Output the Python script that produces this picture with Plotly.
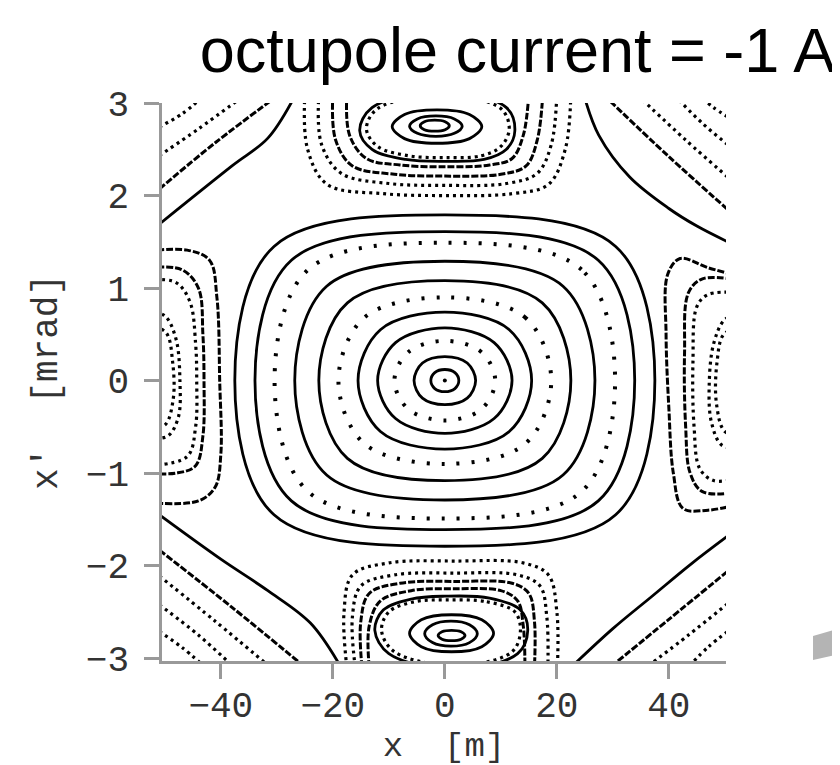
import plotly.graph_objects as go

# ---------------- axis ticks ----------------
x_ticks = [-40, -20, 0, 20, 40]
xp_ticks = [-3, -2, -1, 0, 1, 2, 3]

# ---------------- central (stable) region: nested rings ----------------
ring_half_x = [2.5, 5.5, 9.0, 12.0, 15.5, 19.0, 22.5, 26.8, 30.4, 33.9, 37.5]
ring_half_xp = [0.12, 0.26, 0.43, 0.57, 0.74, 0.90, 1.08, 1.29, 1.49, 1.61, 1.79]
ring_diag_x = [1.8, 4.0, 6.5, 8.8, 11.5, 14.4, 17.4, 21.1, 24.4, 27.4, 30.5]
ring_diag_xp = [0.086, 0.19, 0.31, 0.41, 0.55, 0.68, 0.84, 1.02, 1.20, 1.30, 1.45]
ring_style = ["solid", "solid", "dot", "solid", "solid", "dot",
              "solid", "solid", "dot", "solid", "solid"]

# ---------------- top island ----------------
top_ring_cx = [-1.8, -1.6, -1.4]
top_ring_cxp = [2.755, 2.75, 2.745]
top_ring_hx = [2.6, 4.7, 8.0]
top_ring_hxp = [0.06, 0.11, 0.18]
top_ring_dx = [1.85, 3.3, 5.8]
top_ring_dxp = [0.043, 0.078, 0.13]

topD1_x = [0, 7, 11, 12.5, 11, 0, -13, -15.2, -13, -7, 0]
topD1_xp = [2.37, 2.39, 2.5, 2.7, 2.95, 3.12, 2.95, 2.7, 2.5, 2.39, 2.37]
topD2_x = [0, 6.5, 10, 11.5, 10, 0, -12, -14, -12, -6.5, 0]
topD2_xp = [2.41, 2.43, 2.53, 2.72, 2.94, 3.08, 2.94, 2.72, 2.53, 2.43, 2.41]

topU1_x = [-17.5, -17, -14, -8, 0, 8, 12, 14, 15]
topU1_xp = [3.1, 2.65, 2.4, 2.33, 2.31, 2.33, 2.4, 2.65, 3.1]
topU2_x = [-20, -19.5, -16.5, -9, 0, 10, 14.5, 16.5, 17.5]
topU2_xp = [3.1, 2.6, 2.32, 2.23, 2.21, 2.23, 2.32, 2.6, 3.1]
topU3_x = [-22.5, -22, -18.5, -10, 0, 11, 16.5, 19, 20]
topU3_xp = [3.1, 2.55, 2.24, 2.13, 2.11, 2.13, 2.24, 2.55, 3.1]
topU4_x = [-25, -24.5, -21, -11, 0, 12, 18.5, 21.5, 22.5]
topU4_xp = [3.1, 2.5, 2.12, 2.02, 2.0, 2.02, 2.12, 2.5, 3.1]

# ---------------- bottom island ----------------
bot_ring_cx = [1.2, 1.1, 1.2]
bot_ring_cxp = [-2.755, -2.735, -2.73]
bot_ring_hx = [2.4, 4.7, 7.5]
bot_ring_hxp = [0.055, 0.135, 0.2]
bot_ring_dx = [1.7, 3.3, 5.4]
bot_ring_dxp = [0.04, 0.096, 0.145]

botD1_x = [0, 8, 13.5, 14.8, 13, 2, -10, -12.5, -11, -6, 0]
botD1_xp = [-2.33, -2.35, -2.48, -2.7, -2.95, -3.12, -2.95, -2.7, -2.48, -2.36, -2.33]
botD2_x = [0.5, 7.5, 12.5, 13.5, 12, 2, -9, -11.3, -10, -5.5, 0.5]
botD2_xp = [-2.37, -2.39, -2.5, -2.7, -2.93, -3.08, -2.93, -2.7, -2.5, -2.39, -2.37]

botU1_x = [-13.5, -13.5, -11.5, -6, 2, 10, 13, 14, 14.3]
botU1_xp = [-3.1, -2.65, -2.38, -2.27, -2.25, -2.27, -2.38, -2.65, -3.1]
botU2_x = [-14.8, -15, -13.5, -8, 2, 12, 15, 16, 16]
botU2_xp = [-3.1, -2.6, -2.3, -2.19, -2.17, -2.19, -2.3, -2.6, -3.1]
botU3_x = [-16, -16.5, -15, -9, 2, 13, 17, 18.2, 18.4]
botU3_xp = [-3.1, -2.55, -2.22, -2.1, -2.08, -2.1, -2.22, -2.55, -3.1]
botU4_x = [-17.5, -18, -16.5, -10, 2, 14, 18.5, 20, 20.1]
botU4_xp = [-3.1, -2.5, -2.1, -1.97, -1.95, -1.97, -2.1, -2.5, -3.1]

# ---------------- left island (centre beyond the left edge) ----------------
left1_x = [-53, -46, -42, -40.7, -40.2, -40, -41, -44, -53]
left1_xp = [1.40, 1.41, 1.3, 0.9, 0, -0.8, -1.15, -1.3, -1.32]
left2_x = [-53, -47, -44, -43.2, -43, -43.2, -44.5, -48, -53]
left2_xp = [1.22, 1.2, 1.0, 0.5, 0, -0.6, -0.92, -1.0, -1.0]
left3_x = [-53, -48, -45.5, -44.5, -44.3, -44.5, -46, -53]
left3_xp = [1.09, 1.06, 0.85, 0.4, 0, -0.5, -0.82, -0.92]
left4_x = [-53, -50, -48, -47.3, -47.6, -49.5, -53]
left4_xp = [0.75, 0.70, 0.45, 0, -0.4, -0.6, -0.62]
left5_x = [-53, -49.8, -48.6, -48.5, -50, -53]
left5_xp = [0.6, 0.52, 0.2, -0.2, -0.48, -0.5]

# ---------------- right island (centre beyond the right edge) ----------------
right1_x = [53, 47, 42, 39.8, 39.5, 40, 40.8, 42.5, 47, 53]
right1_xp = [1.12, 1.22, 1.32, 1.15, 0.5, -0.3, -1.0, -1.38, -1.4, -1.33]
right2_x = [53, 46, 43.5, 42.8, 43, 43.8, 46, 53]
right2_xp = [1.08, 1.1, 0.95, 0.3, -0.5, -1.0, -1.2, -1.2]
right3_x = [53, 47, 45, 44.3, 44.5, 45.5, 48, 53]
right3_xp = [0.95, 0.93, 0.8, 0.2, -0.5, -0.95, -1.08, -1.05]
right4_x = [53, 50, 48, 47.2, 47.6, 49.5, 53]
right4_xp = [0.72, 0.66, 0.4, -0.05, -0.45, -0.7, -0.72]
right5_x = [53, 49.8, 48.6, 48.5, 50, 53]
right5_xp = [0.58, 0.5, 0.2, -0.25, -0.55, -0.58]

# ---------------- corner orbits outside the separatrix ----------------
ul_x = [[-51, -47, -43.5], [-51, -44, -36.5], [-51, -41, -30.5], [-51, -38, -31.6, -27]]
ul_xp = [[2.74, 2.88, 3.05], [2.43, 2.72, 3.05], [2.07, 2.57, 3.05], [1.69, 2.32, 2.62, 3.05]]
ul_style = ["dense", "dense", "dash", "solid"]

ur_x = [[50.5, 48, 46], [50.5, 46, 41.5], [50.5, 43, 35], [50.5, 40, 29],
        [50.5, 45, 40, 33, 27.5, 25]]
ur_xp = [[2.85, 2.95, 3.05], [2.55, 2.78, 3.05], [2.2, 2.6, 3.05], [1.85, 2.42, 3.05],
         [1.50, 1.67, 1.86, 2.2, 2.65, 3.05]]
ur_style = ["dense", "dense", "dense", "dash", "solid"]

ll_x = [[-51, -40, -31.6, -24, -18.9], [-51, -38, -25.7], [-51, -41, -31.9],
        [-51, -44, -38.3], [-51, -47, -43.5]]
ll_xp = [[-1.45, -1.93, -2.27, -2.62, -3.06], [-1.83, -2.45, -3.06], [-2.11, -2.6, -3.06],
         [-2.42, -2.75, -3.06], [-2.71, -2.88, -3.06]]
ll_style = ["solid", "dash", "dense", "dense", "dense"]

lr_x = [[50.5, 44, 37, 30, 23.2], [50.5, 40, 30.3], [50.5, 43.5, 36.8], [50.5, 47, 44]]
lr_xp = [[-1.68, -1.98, -2.33, -2.68, -3.06], [-2.06, -2.58, -3.06], [-2.41, -2.75, -3.06],
         [-2.71, -2.88, -3.06]]
lr_style = ["solid", "dash", "dense", "dense"]

# ---------------- styles ----------------
STYLES = {
    "solid": dict(width=2.8, dash="solid"),
    "dot": dict(width=4.0, dash="3px,12px"),
    "dense": dict(width=3.2, dash="3px,4px"),
    "dash": dict(width=3.0, dash="7px,2px"),
}

fig = go.Figure()


def add_curve(xs, ys, style):
    fig.add_trace(go.Scatter(
        x=xs, y=ys, mode="lines",
        line=dict(color="black", shape="spline", smoothing=1.0, simplify=False,
                  **STYLES[style]),
        hoverinfo="skip", showlegend=False))


def ring_points(cx, cy, a, b, da, db):
    # closed loop: identical first and last vertex -> plotly draws a closed spline
    xs = [cx + a, cx + da, cx, cx - da, cx - a, cx - da, cx, cx + da, cx + a]
    ys = [cy, cy + db, cy + b, cy + db, cy, cy - db, cy - b, cy - db, cy]
    return xs, ys


# central rings
for a, b, da, db, st in zip(ring_half_x, ring_half_xp, ring_diag_x, ring_diag_xp, ring_style):
    add_curve(*ring_points(0, 0, a, b, da, db), st)
fig.add_trace(go.Scatter(x=[0], y=[0], mode="markers",
                         marker=dict(color="black", size=4),
                         hoverinfo="skip", showlegend=False))

# top island
for cx, cy, a, b, da, db in zip(top_ring_cx, top_ring_cxp, top_ring_hx, top_ring_hxp,
                                top_ring_dx, top_ring_dxp):
    add_curve(*ring_points(cx, cy, a, b, da, db), "solid")
add_curve(topD1_x, topD1_xp, "solid")
add_curve(topD2_x, topD2_xp, "dense")
add_curve(topU1_x, topU1_xp, "dash")
add_curve(topU2_x, topU2_xp, "dash")
add_curve(topU3_x, topU3_xp, "dense")
add_curve(topU4_x, topU4_xp, "dense")

# bottom island
for cx, cy, a, b, da, db in zip(bot_ring_cx, bot_ring_cxp, bot_ring_hx, bot_ring_hxp,
                                bot_ring_dx, bot_ring_dxp):
    add_curve(*ring_points(cx, cy, a, b, da, db), "solid")
add_curve(botD1_x, botD1_xp, "solid")
add_curve(botD2_x, botD2_xp, "dense")
add_curve(botU1_x, botU1_xp, "dash")
add_curve(botU2_x, botU2_xp, "dash")
add_curve(botU3_x, botU3_xp, "dense")
add_curve(botU4_x, botU4_xp, "dense")

# side islands
add_curve(left1_x, left1_xp, "dash")
add_curve(left2_x, left2_xp, "dash")
add_curve(left3_x, left3_xp, "dense")
add_curve(left4_x, left4_xp, "dense")
add_curve(left5_x, left5_xp, "dense")
add_curve(right1_x, right1_xp, "dash")
add_curve(right2_x, right2_xp, "dash")
add_curve(right3_x, right3_xp, "dense")
add_curve(right4_x, right4_xp, "dense")
add_curve(right5_x, right5_xp, "dense")

# corners
for xs_list, ys_list, st_list in [(ul_x, ul_xp, ul_style), (ur_x, ur_xp, ur_style),
                                  (ll_x, ll_xp, ll_style), (lr_x, lr_xp, lr_style)]:
    for xs, ys, st in zip(xs_list, ys_list, st_list):
        add_curve(xs, ys, st)

mono = "Liberation Mono, DejaVu Sans Mono, monospace"
tick_font = dict(family=mono, size=36, color="#333333")
axis_common = dict(
    showline=True, linecolor="#999999", linewidth=2.5, mirror=False,
    ticks="outside", ticklen=15, tickwidth=2.5, tickcolor="#999999",
    showgrid=False, zeroline=False, tickfont=tick_font,
)

fig.update_layout(
    width=840, height=765,
    margin=dict(l=154, r=122, t=95, b=112),
    paper_bgcolor="white", plot_bgcolor="white",
    title=dict(text="octupole current = -1 A",
               font=dict(family="Liberation Sans, Arial, sans-serif", size=63, color="black"),
               xref="container", x=0.985, xanchor="right",
               yref="container", y=0.945, yanchor="middle"),
    xaxis=dict(range=[-50.5, 50.2], tickvals=x_ticks, ticklabelstandoff=-5,
               title=dict(text="x  [m]", font=dict(family=mono, size=34, color="#333333"),
                          standoff=0), **axis_common),
    yaxis=dict(range=[-3.03, 3.0], tickvals=xp_ticks, ticklabelstandoff=8,
               title=dict(text="x'  [mrad]", font=dict(family=mono, size=36, color="#333333"),
                          standoff=18), **axis_common),
    shapes=[dict(type="path", xref="paper", yref="paper",
                 path="M 1.1543 0.0448 L 1.2163 0.0627 L 1.2163 0.0161 L 1.1543 0.0018 Z",
                 fillcolor="#b4b4b4", line=dict(width=0))],
)

fig.write_html("out.html")
